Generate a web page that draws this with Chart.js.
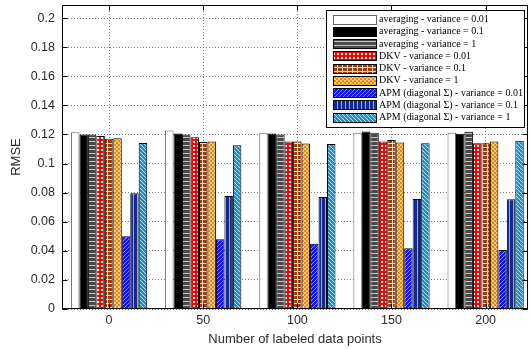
<!DOCTYPE html>
<html>
<head>
<meta charset="utf-8">
<script src="https://cdn.jsdelivr.net/npm/chart.js@4/dist/chart.umd.min.js"></script>
<style>
  html, body { margin: 0; padding: 0; background: #fff; }
  #grafica { display: block; }
</style>
</head>
<body>
<canvas id="grafica" width="530" height="349"></canvas>
<script>
// Datos
var puntos = [0, 50, 100, 150, 200];
var yTicks = [0, 0.02, 0.04, 0.06, 0.08, 0.1, 0.12, 0.14, 0.16, 0.18, 0.2];
var etiquetas = [
  "averaging - variance = 0.01",
  "averaging - variance = 0.1",
  "averaging - variance = 1",
  "DKV - variance = 0.01",
  "DKV - variance = 0.1",
  "DKV - variance = 1",
  "APM (diagonal \u03A3) - variance = 0.01",
  "APM (diagonal \u03A3) - variance = 0.1",
  "APM (diagonal \u03A3) - variance = 1"
];
var avg001 = [0.1215, 0.1227, 0.1212, 0.1212, 0.1212];
var avg01  = [0.1200, 0.1206, 0.1206, 0.1220, 0.1205];
var avg1   = [0.1199, 0.1200, 0.1200, 0.1212, 0.1219];
var dkv001 = [0.1189, 0.1180, 0.1152, 0.1152, 0.1139];
var dkv01  = [0.1171, 0.1148, 0.1152, 0.1162, 0.1139];
var dkv1   = [0.1174, 0.1152, 0.1138, 0.1144, 0.1152];
var apm001 = [0.0500, 0.0479, 0.0449, 0.0418, 0.0405];
var apm01  = [0.0795, 0.0777, 0.0770, 0.0756, 0.0754];
var apm1   = [0.1141, 0.1125, 0.1134, 0.1139, 0.1157];
var series = [avg001, avg01, avg1, dkv001, dkv01, dkv1, apm001, apm01, apm1];

// Texturas tipo MATLAB
function textura(w, h, fondo, tinta, pixeles) {
  var c = document.createElement("canvas");
  c.width = w; c.height = h;
  var g = c.getContext("2d");
  g.fillStyle = fondo;
  g.fillRect(0, 0, w, h);
  g.fillStyle = tinta;
  pixeles.forEach(function (p) { g.fillRect(p[0], p[1], p[2] || 1, p[3] || 1); });
  return g.createPattern(c, "repeat");
}
var rellenos = [
  "#ffffff",
  "#000000",
  textura(4, 4, "#4a4a4a", "#c4c4c4", [[0, 1, 4, 1]]),
  textura(4, 4, "#ff0000", "#ffffff", [[1, 1, 2, 2]]),
  textura(5, 4, "#9c3c08", "#f2dccc", [[2, 0, 1, 4], [0, 3, 5, 1]]),
  textura(4, 4, "#e8860e", "#f8cc80", [[0, 0, 2, 2], [2, 2, 2, 2]]),
  textura(4, 4, "#1212ff", "#8a8aff", [[0, 3], [1, 2], [2, 1], [3, 0]]),
  textura(4, 4, "#13298f", "#9aa8dc", [[1, 0, 1, 4]]),
  textura(4, 4, "#2090d0", "#b0dcf4", [[0, 0], [1, 1], [2, 2], [3, 3]])
];
var bordes = ["#666", "#000", "#000", "#000", "#000", "#000", "#000", "#000", "#000"];

// Marco, marcas internas y leyenda
var marco = {
  id: "marco",
  afterDatasetsDraw: function (chart) {
    var ctx = chart.ctx, a = chart.chartArea;
    var x = chart.scales.x, y = chart.scales.y;
    var L = Math.round(a.left) + 0.5, R = Math.round(a.right) - 0.5;
    var T = Math.round(a.top) + 0.5, B = Math.round(a.bottom) - 0.5;
    ctx.save();
    ctx.strokeStyle = "#000";
    ctx.lineWidth = 1;
    ctx.strokeRect(L, T, R - L, B - T);
    ctx.beginPath();
    y.ticks.forEach(function (t) {
      var py = Math.round(y.getPixelForValue(t.value)) + 0.5;
      ctx.moveTo(L, py); ctx.lineTo(L + 5, py);
      ctx.moveTo(R, py); ctx.lineTo(R - 5, py);
    });
    x.ticks.forEach(function (t) {
      var px = Math.round(x.getPixelForValue(t.value)) + 0.5;
      ctx.moveTo(px, B); ctx.lineTo(px, B - 5);
      ctx.moveTo(px, T); ctx.lineTo(px, T + 5);
    });
    ctx.stroke();

    // leyenda
    var lx = 326.5, ly = 10.5, lw = 198, lh = 117;
    ctx.fillStyle = "#fff";
    ctx.fillRect(lx, ly, lw, lh);
    ctx.strokeRect(lx, ly, lw, lh);
    ctx.font = "10px 'Liberation Serif'";
    ctx.textBaseline = "middle";
    chart.data.datasets.forEach(function (ds, i) {
      var cy = 19.5 + i * 12.25;
      var top = Math.round(cy - 5);
      ctx.fillStyle = ds.backgroundColor;
      ctx.fillRect(333, top, 44, 10);
      ctx.strokeStyle = ds.borderColor;
      ctx.strokeRect(333.5, top + 0.5, 43, 9);
      ctx.fillStyle = "#000";
      ctx.fillText(ds.label, 379, cy);
    });
    ctx.restore();
  }
};

var datasets = [];
for (var i = 0; i < series.length; i++) {
  datasets.push({
    label: etiquetas[i],
    data: puntos.map(function (p, j) { return { x: p, y: series[i][j] }; }),
    backgroundColor: rellenos[i],
    borderColor: bordes[i],
    borderWidth: 1
  });
}

var grafica = new Chart(document.getElementById("grafica").getContext("2d"), {
  type: "bar",
  data: { datasets: datasets },
  plugins: [marco],
  options: {
    responsive: false,
    animation: false,
    devicePixelRatio: 1,
    layout: { padding: { top: 5, right: 2, left: 0, bottom: 0 } },
    categoryPercentage: 0.81,
    barPercentage: 1,
    plugins: { legend: { display: false }, tooltip: { enabled: false } },
    scales: {
      x: {
        type: "linear",
        offset: false,
        min: -25,
        max: 222.5,
        afterBuildTicks: function (s) { s.ticks = puntos.map(function (v) { return { value: v }; }); },
        afterFit: function (s) { s.height = 40; s.paddingLeft = 0; s.paddingRight = 0; },
        grid: { color: "#7a7a7a", drawTicks: false, offset: false },
        border: { display: false, dash: [1, 2] },
        ticks: { padding: 4, color: "#2b2b2b", font: { family: "'Liberation Sans'", size: 12.5 } },
        title: { display: true, text: "Number of labeled data points", color: "#2b2b2b",
                 font: { family: "'Liberation Sans'", size: 13 }, padding: { top: 0, bottom: 2 } }
      },
      y: {
        min: 0,
        max: 0.209,
        afterBuildTicks: function (s) { s.ticks = yTicks.map(function (v) { return { value: v }; }); },
        afterFit: function (s) { s.width = 62; s.paddingTop = 0; s.paddingBottom = 0; },
        grid: { color: "#7a7a7a", drawTicks: false },
        border: { display: false, dash: [1, 2] },
        ticks: { padding: 7, color: "#2b2b2b", font: { family: "'Liberation Sans'", size: 12.5 },
                 callback: function (v) { return String(+v.toFixed(2)); } },
        title: { display: true, text: "RMSE", color: "#2b2b2b",
                 font: { family: "'Liberation Sans'", size: 13 }, padding: { top: 9, bottom: 0 } }
      }
    }
  }
});
</script>
</body>
</html>
